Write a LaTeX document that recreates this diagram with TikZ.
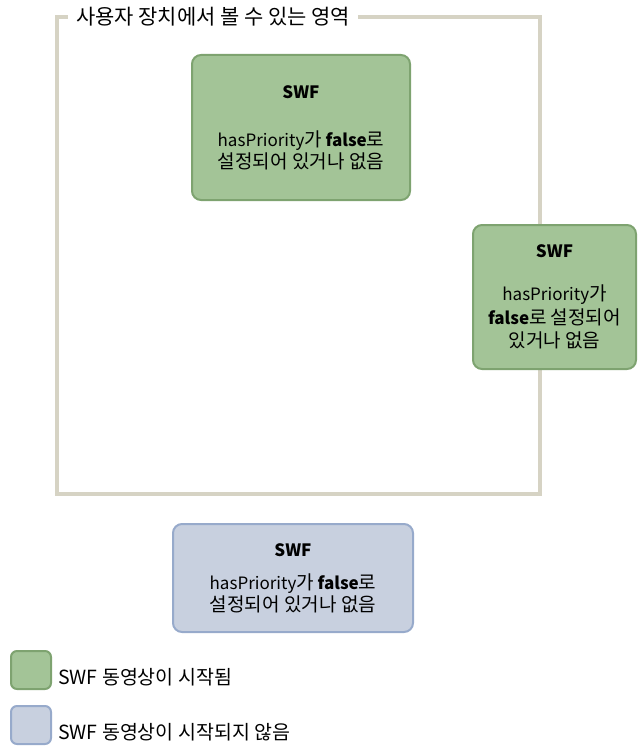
\documentclass[tikz,border=0pt]{standalone}
\usepackage{fontspec}
\setmainfont{Noto Sans CJK KR}
\newfontfamily\kr[Scale=1.12]{Noto Sans CJK KR}
\usetikzlibrary{positioning}
\definecolor{frameGray}{RGB}{214,211,196}
\definecolor{swfGreen}{RGB}{163,196,151}
\definecolor{swfGreenLine}{RGB}{126,163,112}
\definecolor{swfBlue}{RGB}{200,208,223}
\definecolor{swfBlueLine}{RGB}{151,170,203}
\tikzset{
  x=1pt,y=-1pt,
  font=\fontsize{17}{22}\selectfont,
  frame/.style={draw=frameGray,line width=4.5pt},
  title/.style={fill=white,inner xsep=8pt,inner ysep=2pt,font=\fontsize{18.7}{22}\selectfont},
  swfbox/.style={line width=2pt,rounded corners=9pt,align=center,inner sep=0pt},
  started/.style={swfbox,fill=swfGreen,draw=swfGreenLine},
  notstarted/.style={swfbox,fill=swfBlue,draw=swfBlueLine},
  key/.style={line width=2pt,rounded corners=6pt,minimum width=40pt,minimum height=38pt,inner sep=0pt},
  keytext/.style={inner sep=0pt,font=\fontsize{19.5}{22}\selectfont},
}
\begin{document}
\begin{tikzpicture}
  \useasboundingbox (0,0) rectangle (637,749);
  \draw [frame] (57,17) rectangle (540,494);
  \node (title) [title] at (213,17) {\kr 사용자 장치에서 볼 수 있는 영역};

  \node (swfa) [started,minimum width=218pt,minimum height=145pt] at (301,127.5)
    {\textbf{SWF}\\[26pt] hasPriority{\kr 가} \textbf{false}{\kr 로}\\ {\kr 설정되어 있거나 없음}};
  \node (swfb) [started,minimum width=163pt,minimum height=144pt] at (554.5,297)
    {\textbf{SWF}\\[21pt] hasPriority{\kr 가}\\[2pt] \textbf{false}{\kr 로 설정되어}\\[1pt] {\kr 있거나 없음}};
  \node (swfc) [notstarted,minimum width=240pt,minimum height=108pt] at (293,578)
    {\textbf{SWF}\\[11pt] hasPriority{\kr 가} \textbf{false}{\kr 로}\\ {\kr 설정되어 있거나 없음}};

  \node (keya) [key,fill=swfGreen,draw=swfGreenLine] at (31,670) {};
  \node (keyb) [key,fill=swfBlue,draw=swfBlueLine] at (31,725) {};
  \node (keyatext) [keytext,right=6pt of keya.south east,anchor=base west,yshift=6pt] {SWF 동영상이 시작됨};
  \node (keybtext) [keytext,right=6pt of keyb.south east,anchor=base west,yshift=6pt] {SWF 동영상이 시작되지 않음};
\end{tikzpicture}
\end{document}
